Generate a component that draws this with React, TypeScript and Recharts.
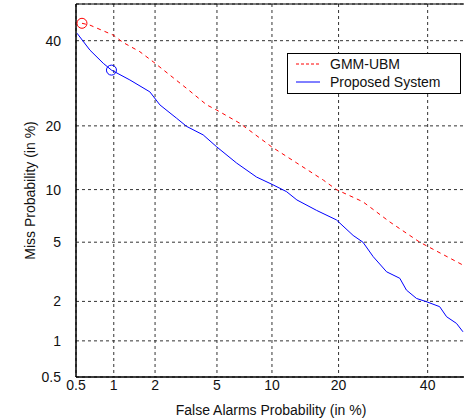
import React from 'react';
import {
  ComposedChart,
  Line,
  Scatter,
  XAxis,
  YAxis,
  CartesianGrid,
  ReferenceArea,
} from 'recharts';

// DET curve values, all in percent
const tickValues = [0.5, 1, 2, 5, 10, 20, 40];

const gmmFar = [0.56, 0.65, 0.99, 1.18, 1.56, 1.94, 2.52, 3.25, 4.34, 4.98, 6.77, 9.96, 13.2, 17.3, 19.6, 24.8, 30.8, 38.0, 49.2];
const gmmMiss = [44.7, 44.2, 41.5, 39.5, 37.1, 34.5, 31.2, 28.0, 24.3, 23.2, 20.5, 16.2, 13.6, 11.2, 10.0, 8.6, 6.6, 5.0, 3.57];

const propFar = [0.51, 0.65, 0.83, 0.96, 1.32, 1.84, 2.16, 2.8, 3.25, 4.13, 4.98, 6.49, 8.33, 10.1, 11.8, 13.2, 16.2, 19.6, 22.8, 24.8, 27.0, 30.0, 33.1, 34.7, 37.2, 39.7, 43.1, 44.9, 47.5, 49.2];
const propMiss = [42.0, 37.5, 34.1, 32.4, 30.0, 27.2, 24.3, 21.5, 19.9, 18.3, 16.2, 13.6, 11.6, 10.6, 9.75, 8.8, 7.7, 6.8, 5.5, 5.0, 4.05, 3.22, 2.91, 2.41, 2.1, 1.99, 1.83, 1.54, 1.37, 1.18];

// operating points marked with circles
const gmmPoint = { far: 0.56, miss: 44.7 };
const propPoint = { far: 0.96, miss: 32.4 };

// inverse normal cdf (Acklam) - DET axes are on a normal deviate scale
function probit(p: number) {
  const a = [-39.69683028665376, 220.9460984245205, -275.9285104469687, 138.357751867269, -30.66479806614716, 2.506628277459239];
  const b = [-54.47609879822406, 161.5858368580409, -155.6989798598866, 66.80131188771972, -13.28068155288572];
  const c = [-0.007784894002430293, -0.3223964580411365, -2.400758277161838, -2.549732539343734, 4.374664141464968, 2.938163982698783];
  const d = [0.007784695709041462, 0.3224671290700398, 2.445134137142996, 3.754408661907416];
  const pl = 0.02425;
  if (p < pl) {
    const q = Math.sqrt(-2 * Math.log(p));
    return (((((c[0] * q + c[1]) * q + c[2]) * q + c[3]) * q + c[4]) * q + c[5]) /
      ((((d[0] * q + d[1]) * q + d[2]) * q + d[3]) * q + 1);
  }
  if (p > 1 - pl) {
    const q = Math.sqrt(-2 * Math.log(1 - p));
    return -(((((c[0] * q + c[1]) * q + c[2]) * q + c[3]) * q + c[4]) * q + c[5]) /
      ((((d[0] * q + d[1]) * q + d[2]) * q + d[3]) * q + 1);
  }
  const q = p - 0.5;
  const r = q * q;
  return (((((a[0] * r + a[1]) * r + a[2]) * r + a[3]) * r + a[4]) * r + a[5]) * q /
    (((((b[0] * r + b[1]) * r + b[2]) * r + b[3]) * r + b[4]) * r + 1);
}

const z = (pct: number) => probit(pct / 100);
const toPoints = (far: number[], miss: number[]) => far.map((f, i) => ({ x: z(f), y: z(miss[i]) }));

const gmmData = toPoints(gmmFar, gmmMiss);
const propData = toPoints(propFar, propMiss);
const tickZ = tickValues.map(z);
const lo = z(0.5);
const hi = 0;

const fmtTick = (v: number) => {
  const i = tickZ.findIndex((t) => Math.abs(t - v) < 1e-6);
  return i >= 0 ? String(tickValues[i]) : '';
};

const font = '"Liberation Sans", Arial, sans-serif';
const fs = 14;

const DetLegend = () => (
  <div style={{ position: 'absolute', left: 287, top: 53, width: 174, height: 41, border: '1px solid #000', background: '#fff', boxSizing: 'border-box' }}>
    <svg width={172} height={39} style={{ display: 'block' }}>
      <line x1={8} x2={32} y1={10} y2={10} stroke="#ff0000" strokeDasharray="3 2" />
      <text x={42} y={15} fontSize={fs} fontFamily={font} fill="#111">GMM-UBM</text>
      <line x1={8} x2={32} y1={28} y2={28} stroke="#0000ff" />
      <text x={42} y={33} fontSize={fs} fontFamily={font} fill="#111">Proposed System</text>
    </svg>
  </div>
);

const App = () => {
  return (
    <div style={{ position: 'absolute', left: 0, top: 0, width: 464, height: 419, overflow: 'hidden', background: '#fff' }}>
      <ComposedChart width={470} height={419} margin={{ top: 4, right: 4, bottom: 2, left: 6 }}>
        <CartesianGrid stroke="#333" strokeDasharray="3 3" />
        <XAxis
          type="number"
          dataKey="x"
          domain={[lo, hi]}
          ticks={tickZ}
          tickFormatter={fmtTick}
          allowDataOverflow
          height={40}
          tickSize={0}
          tickMargin={3}
          tickLine={false}
          stroke="#000"
          tick={{ fill: '#111', fontSize: fs, fontFamily: font }}
          label={{ value: 'False Alarms Probability (in %)', position: 'insideBottom', offset: 2, fill: '#111', fontSize: fs, fontFamily: font }}
        />
        <YAxis
          type="number"
          dataKey="y"
          domain={[lo, hi]}
          ticks={tickZ}
          tickFormatter={fmtTick}
          allowDataOverflow
          width={70}
          tickSize={0}
          tickMargin={15}
          tickLine={false}
          stroke="#000"
          tick={{ fill: '#111', fontSize: fs, fontFamily: font }}
          label={{ value: 'Miss Probability (in %)', angle: -90, position: 'insideLeft', dx: 19, textAnchor: 'middle', fill: '#111', fontSize: fs, fontFamily: font }}
        />
        <ReferenceArea x1={lo} x2={hi} y1={lo} y2={hi} fill="none" stroke="#000" strokeOpacity={1} ifOverflow="visible" />
        <Line data={gmmData} dataKey="y" type="linear" stroke="#ff0000" strokeDasharray="4 4" dot={false} isAnimationActive={false} />
        <Line data={propData} dataKey="y" type="linear" stroke="#0000ff" dot={false} isAnimationActive={false} />
        <Scatter data={[{ x: z(gmmPoint.far), y: z(gmmPoint.miss) }]} fill="none" stroke="#ff0000" shape={(p: any) => <circle cx={p.cx} cy={p.cy} r={5} fill="none" stroke="#ff0000" />} isAnimationActive={false} />
        <Scatter data={[{ x: z(propPoint.far), y: z(propPoint.miss) }]} fill="none" stroke="#0000ff" shape={(p: any) => <circle cx={p.cx} cy={p.cy} r={5} fill="none" stroke="#0000ff" />} isAnimationActive={false} />
      </ComposedChart>
      <DetLegend />
    </div>
  );
};

export default App;
